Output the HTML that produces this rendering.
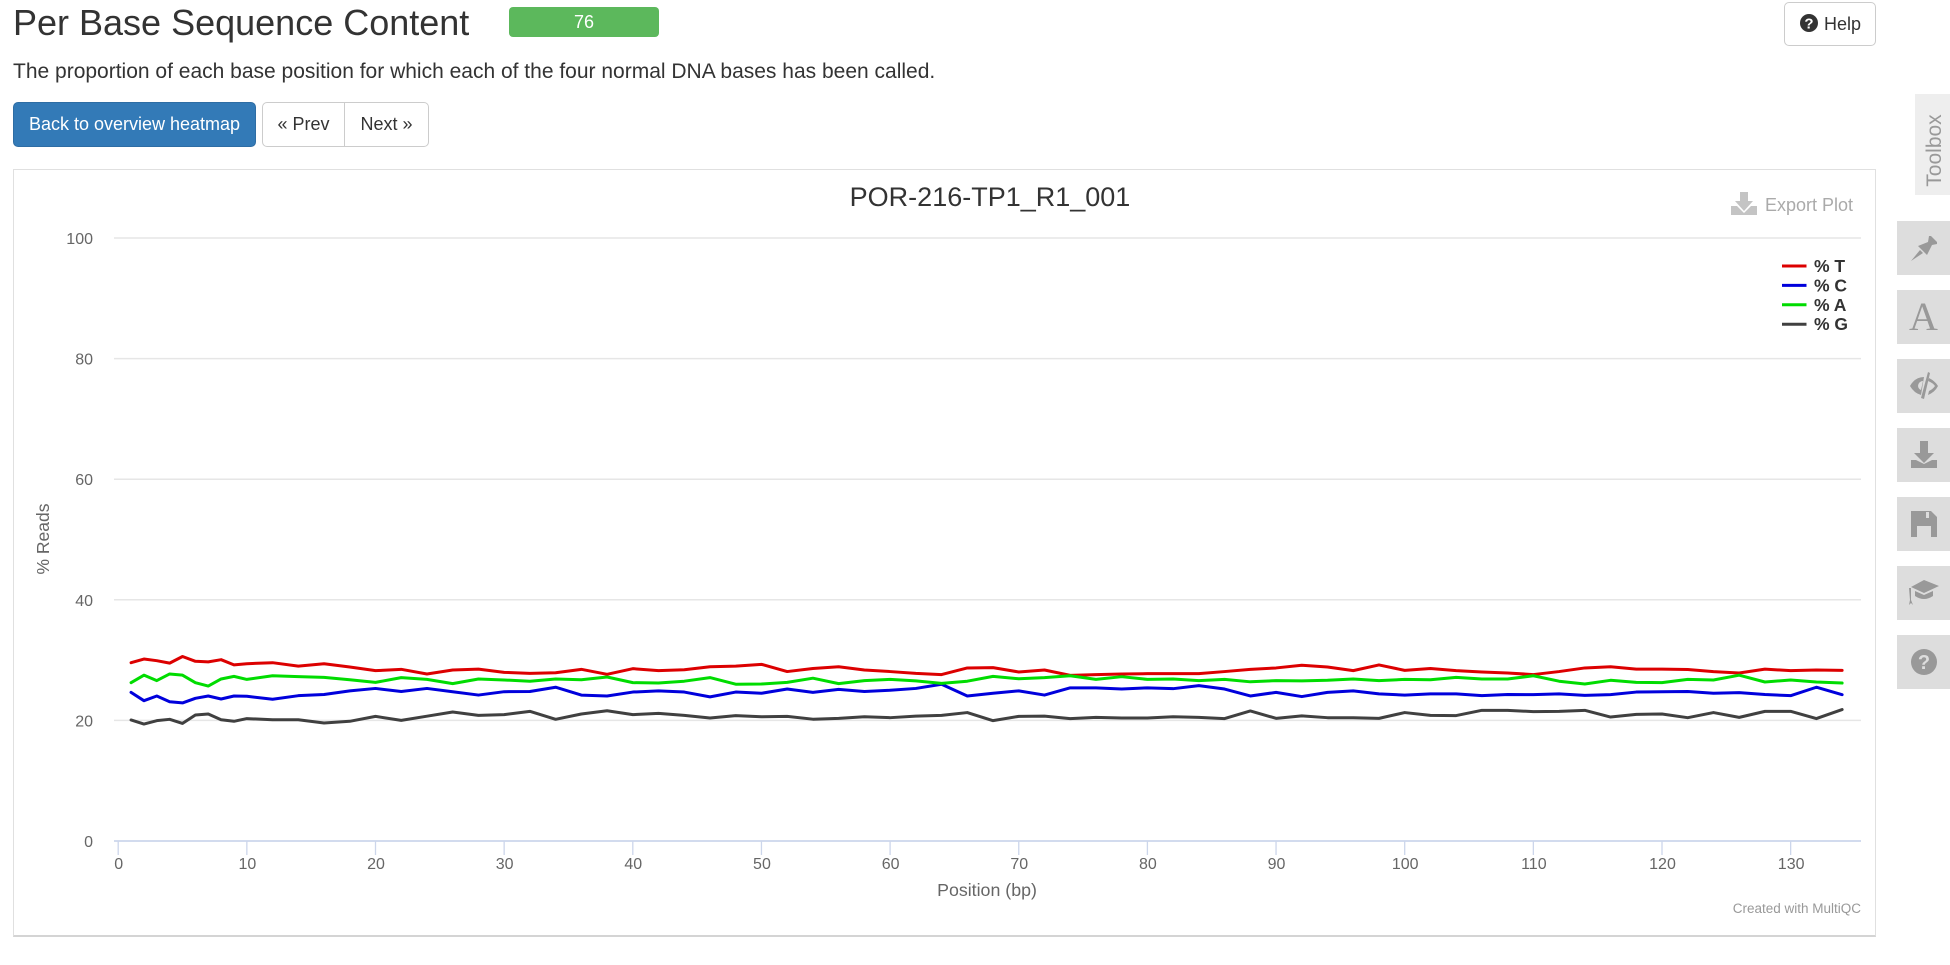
<!DOCTYPE html>
<html lang="en">
<head>
<meta charset="utf-8">
<title>Per Base Sequence Content</title>
<style>
html,body{margin:0;padding:0;background:#fff;width:1950px;height:965px;overflow:hidden;font-family:"Liberation Sans",sans-serif;color:#333}
.abs{position:absolute;box-sizing:border-box}
.btn{display:flex;align-items:center;justify-content:center;font-size:18px;text-decoration:none}
.tool{left:1897px;width:53px;height:54px;background:#ddd;display:flex;align-items:center;justify-content:center}
svg text{font-family:"Liberation Sans",sans-serif}
</style>
</head>
<body>
<div class="abs" style="left:13px;top:0;height:45px;line-height:45px;font-size:36px;color:#333;white-space:nowrap">Per Base Sequence Content</div>
<div class="abs" style="left:509px;top:7px;width:150px;height:30px;background:#5cb85c;border-radius:4px;color:#fff;font-size:18px;line-height:30px;text-align:center">76</div>
<div class="abs btn" style="left:1784px;top:2px;width:92px;height:44px;border:1px solid #ccc;border-radius:5px;font-size:18px;gap:5px">
<svg width="20" height="20" viewBox="0 0 20 20" style="margin-top:-3px"><circle cx="10" cy="10" r="9" fill="#333"/><text x="10" y="15.5" text-anchor="middle" font-size="15" font-weight="bold" fill="#fff">?</text></svg>Help</div>
<div class="abs" style="left:13px;top:58px;height:27px;line-height:27px;font-size:21px;color:#333;white-space:nowrap">The proportion of each base position for which each of the four normal DNA bases has been called.</div>
<div class="abs btn" style="left:13px;top:102px;width:243px;height:45px;background:#337ab7;border:1px solid #2e6da4;border-radius:5px;color:#fff">Back to overview heatmap</div>
<div class="abs btn" style="left:262px;top:102px;width:83px;height:45px;background:#fff;border:1px solid #ccc;border-radius:5px 0 0 5px">« Prev</div>
<div class="abs btn" style="left:344px;top:102px;width:85px;height:45px;background:#fff;border:1px solid #ccc;border-radius:0 5px 5px 0">Next »</div>

<div class="abs" style="left:13px;top:169px;width:1863px;height:768px;border:1px solid #e0e0e0;border-bottom:2px solid #d4d4d4;background:#fff"></div>

<svg id="chart" class="abs" style="left:0;top:0" width="1950" height="965" viewBox="0 0 1950 965">
  <g id="grid"></g>
  <g id="yLabels"></g>
  <g id="xAxis"></g>
  <g id="series"></g>
  <text x="990" y="206" text-anchor="middle" font-size="27" fill="#333">POR-216-TP1_R1_001</text>
  <text transform="translate(49 539) rotate(-90)" text-anchor="middle" font-size="17.5" fill="#666">% Reads</text>
  <text x="987" y="896" text-anchor="middle" font-size="17.8" fill="#666">Position (bp)</text>
  <text x="1861" y="913" text-anchor="end" font-size="13.5" fill="#999">Created with MultiQC</text>
  <g>
    <g fill="#c4c4c4">
      <rect x="1740" y="192" width="8" height="10"/>
      <polygon points="1735,201 1753,201 1744,211"/>
      <path d="M1731 206h6l7 7 7-7h6v9h-26z"/>
    </g>
    <text x="1765" y="211" font-size="18" fill="#aaa">Export Plot</text>
  </g>
  <g id="legend"></g>
</svg>

<div class="abs" style="left:1915px;top:94px;width:35px;height:101px;background:#eee"><div style="position:absolute;left:-31px;top:39px;width:101px;height:35px;line-height:35px;text-align:center;transform:rotate(-90deg);font-size:21px;color:#999">Toolbox</div></div>

<div class="abs tool" style="top:221px"><svg width="30" height="30" viewBox="0 0 30 30"><polygon fill="#999" points="2,28 11,17 14,20"/><polygon fill="#999" points="9,13 19,9 20,3 22,3 28,9 28,11 23,12 18,22"/></svg></div>
<div class="abs tool" style="top:290px"><span style="font-family:'Liberation Serif',serif;font-size:40px;color:#999;line-height:1">A</span></div>
<div class="abs tool" style="top:359px"><svg width="30" height="30" viewBox="0 0 30 30"><path fill="#999" d="M1 15Q6 6 15 6L12 24Q5 22 1 15ZM20 7Q26 10 29 15Q26 21 19 24L20 20Q24 18 26 15Q24 12 19 10Z"/><path fill="#ddd" d="M9 15a5 5 0 0 1 5-5l-2 9a5 5 0 0 1-3-4z"/><path fill="#999" d="M19 1l2 1-6 26-3-1z"/></svg></div>
<div class="abs tool" style="top:428px"><svg width="28" height="30" viewBox="0 0 28 30" fill="#999"><rect x="10" y="1" width="8" height="13"/><polygon points="4,13 24,13 14,23"/><path d="M1 20h5l8 4 8-4h5v8H1z"/></svg></div>
<div class="abs tool" style="top:497px"><svg width="26" height="26" viewBox="0 0 26 26"><path fill="#999" d="M0 0h20l6 6v20h-6V15H6v11H0z"/><rect x="15" y="1" width="3" height="6" fill="#ddd"/></svg></div>
<div class="abs tool" style="top:566px"><svg width="32" height="26" viewBox="0 0 32 26" fill="#999"><polygon points="16,0 31,6 16,13 3,7"/><path d="M7 11l9 4 9-4v5q-9 6-18 0z"/><path d="M1 8l2 0 0 12 2 5-2-2-2 2 1-5z"/></svg></div>
<div class="abs tool" style="top:635px"><svg width="28" height="28" viewBox="0 0 28 28"><circle cx="14" cy="14" r="13" fill="#999"/><text x="14" y="21" text-anchor="middle" font-size="20" font-weight="bold" fill="#ddd">?</text></svg></div>

<script>
const positions = [1,2,3,4,5,6,7,8,9,10,12,14,16,18,20,22,24,26,28,30,32,34,36,38,40,42,44,46,48,50,52,54,56,58,60,62,64,66,68,70,72,74,76,78,80,82,84,86,88,90,92,94,96,98,100,102,104,106,108,110,112,114,116,118,120,122,124,126,128,130,132,134];
const percentT = [29.57,30.18,29.9,29.5,30.6,29.8,29.7,30.07,29.2,29.4,29.57,29.0,29.4,28.86,28.25,28.47,27.7,28.36,28.5,27.97,27.8,27.9,28.47,27.64,28.58,28.25,28.4,28.9,29.0,29.3,28.1,28.6,28.9,28.36,28.1,27.8,27.6,28.7,28.75,28.03,28.36,27.47,27.6,27.7,27.75,27.75,27.75,28.1,28.47,28.7,29.15,28.85,28.25,29.2,28.3,28.6,28.25,28.03,27.86,27.6,28.1,28.7,28.9,28.5,28.5,28.45,28.08,27.86,28.5,28.25,28.36,28.3];
const percentC = [24.65,23.27,24.05,23.1,22.9,23.66,24.05,23.55,24.05,24.0,23.5,24.1,24.3,24.9,25.3,24.8,25.3,24.76,24.2,24.76,24.8,25.5,24.2,24.05,24.7,24.9,24.7,23.9,24.7,24.5,25.2,24.65,25.15,24.8,25.0,25.3,26.0,24.05,24.5,24.9,24.2,25.4,25.4,25.2,25.4,25.26,25.76,25.2,24.05,24.65,23.95,24.65,24.9,24.4,24.2,24.4,24.4,24.1,24.3,24.27,24.4,24.15,24.27,24.7,24.76,24.8,24.5,24.6,24.3,24.1,25.5,24.27];
const percentA = [26.26,27.5,26.6,27.7,27.5,26.26,25.7,26.87,27.3,26.8,27.4,27.25,27.14,26.75,26.3,27.1,26.8,26.1,26.87,26.7,26.5,26.87,26.75,27.2,26.26,26.2,26.5,27.1,26.0,26.04,26.3,27.0,26.1,26.6,26.8,26.55,26.15,26.5,27.3,26.9,27.1,27.4,26.8,27.25,26.8,26.87,26.6,26.8,26.4,26.6,26.55,26.65,26.87,26.6,26.8,26.75,27.14,26.87,26.87,27.4,26.5,26.04,26.65,26.3,26.26,26.8,26.7,27.5,26.37,26.7,26.37,26.2];
const percentG = [20.07,19.4,19.96,20.18,19.5,20.9,21.06,20.1,19.85,20.3,20.1,20.1,19.57,19.85,20.67,20.0,20.7,21.4,20.84,20.95,21.5,20.18,21.06,21.6,20.95,21.17,20.84,20.4,20.8,20.6,20.67,20.2,20.34,20.6,20.45,20.7,20.84,21.3,19.96,20.67,20.7,20.3,20.5,20.4,20.4,20.6,20.5,20.3,21.56,20.34,20.75,20.45,20.45,20.34,21.3,20.84,20.8,21.67,21.67,21.45,21.5,21.67,20.56,21.0,21.06,20.45,21.3,20.5,21.5,21.5,20.3,21.8];
const seriesNames = ['% T','% C','% A','% G'];
const xTickValues = [0,10,20,30,40,50,60,70,80,90,100,110,120,130];
const yTickValues = [0,20,40,60,80,100];

const NS = 'http://www.w3.org/2000/svg';
const allSeries = [percentT, percentC, percentA, percentG];
const seriesColors = ['#dc0000','#0000dc','#00dc00','#404040'];
const seriesKeys = ['t','c','a','g'];
function xScale(v){ return 118.2 + 12.865 * v; }
function yScale(v){ return 841 - 6.03 * v; }
function make(tag, attrs, parent){
  const el = document.createElementNS(NS, tag);
  for (const k in attrs) el.setAttribute(k, attrs[k]);
  parent.appendChild(el);
  return el;
}
const gridG = document.getElementById('grid');
const yLabelG = document.getElementById('yLabels');
yTickValues.forEach(function(v){
  if (v !== 0) {
    const line = make('line', {x1:114, x2:1861, y1:yScale(v), y2:yScale(v), stroke:'#e6e6e6', 'stroke-width':1.5}, gridG);
    
    
  }
  const t = make('text', {x:93, y:yScale(v)+6, 'text-anchor':'end', 'font-size':16, fill:'#666'}, yLabelG);
  
  
  t.textContent = v;
});
const xG = document.getElementById('xAxis');
const axisLine = make('line', {x1:114, x2:1861, y1:841, y2:841, stroke:'#ccd6eb', 'stroke-width':1.8}, xG);


xTickValues.forEach(function(v){
  const tick = make('line', {x1:xScale(v), x2:xScale(v), y1:841, y2:855, stroke:'#ccd6eb', 'stroke-width':1.3}, xG);
  
  
  const t = make('text', {x:xScale(v)+0.5, y:869, 'text-anchor':'middle', 'font-size':16, fill:'#666'}, xG);
  
  
  t.textContent = v;
});
const seriesG = document.getElementById('series');
allSeries.forEach(function(values, i){
  const pts = values.map(function(v, j){ return xScale(positions[j]).toFixed(2) + ',' + yScale(v).toFixed(2); }).join(' ');
  const line = make('polyline', {points:pts, fill:'none', stroke:seriesColors[i], 'stroke-width':3, 'stroke-linejoin':'round', 'stroke-linecap':'round'}, seriesG);
  
  
});
const legendG = document.getElementById('legend');
seriesNames.forEach(function(name, i){
  const yPos = 266 + i * 19.4;
  const swatch = make('line', {x1:1782, x2:1806.5, y1:yPos, y2:yPos, stroke:seriesColors[i], 'stroke-width':3}, legendG);
  
  
  const label = make('text', {x:1814, y:yPos+6, 'font-size':17.5, 'font-weight':'bold', fill:'#333'}, legendG);
  
  
  label.textContent = name;
});
</script>
</body>
</html>
